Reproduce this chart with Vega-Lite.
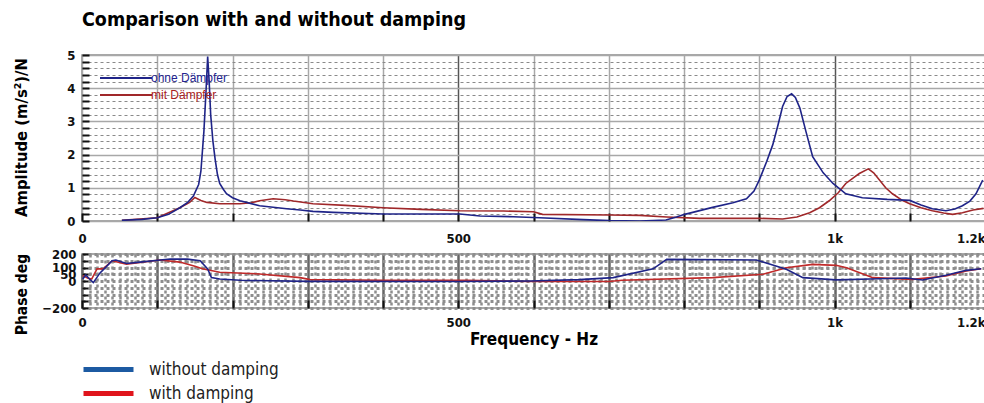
{
  "$schema": "https://vega.github.io/schema/vega-lite/v6.json",
  "padding": {"left": 12, "top": 9, "right": 0, "bottom": 0},
  "background": "white",
  "title": {
    "text": "Comparison with and without damping",
    "anchor": "start",
    "frame": "group",
    "font": "Liberation Sans Narrow, DejaVu Sans Condensed, sans-serif",
    "fontSize": 19.5,
    "fontWeight": "bold",
    "color": "#000",
    "offset": 18
  },
  "config": {
    "view": {"stroke": "#8c8c8c", "strokeWidth": 1.5},
    "axis": {
      "labelFont": "Liberation Sans Narrow, DejaVu Sans Condensed, sans-serif",
      "labelFontSize": 13,
      "labelFontWeight": "bold",
      "labelColor": "#111",
      "titleFont": "Liberation Sans Narrow, DejaVu Sans Condensed, sans-serif",
      "titleFontSize": 17,
      "titleFontWeight": "bold",
      "titleColor": "#000",
      "domain": false
    }
  },
  "datasets": {
    "amp": [
      {"s": "mit Dämpfer", "f": 53, "v": 0.02},
      {"s": "mit Dämpfer", "f": 100, "v": 0.1},
      {"s": "mit Dämpfer", "f": 130, "v": 0.4},
      {"s": "mit Dämpfer", "f": 143, "v": 0.56},
      {"s": "mit Dämpfer", "f": 150, "v": 0.71},
      {"s": "mit Dämpfer", "f": 158, "v": 0.62},
      {"s": "mit Dämpfer", "f": 166, "v": 0.56},
      {"s": "mit Dämpfer", "f": 183, "v": 0.52},
      {"s": "mit Dämpfer", "f": 210, "v": 0.52},
      {"s": "mit Dämpfer", "f": 225, "v": 0.55},
      {"s": "mit Dämpfer", "f": 236, "v": 0.61},
      {"s": "mit Dämpfer", "f": 254, "v": 0.67},
      {"s": "mit Dämpfer", "f": 270, "v": 0.64},
      {"s": "mit Dämpfer", "f": 281, "v": 0.6},
      {"s": "mit Dämpfer", "f": 307, "v": 0.52},
      {"s": "mit Dämpfer", "f": 350, "v": 0.47},
      {"s": "mit Dämpfer", "f": 400, "v": 0.4},
      {"s": "mit Dämpfer", "f": 450, "v": 0.35},
      {"s": "mit Dämpfer", "f": 502, "v": 0.31},
      {"s": "mit Dämpfer", "f": 560, "v": 0.3},
      {"s": "mit Dämpfer", "f": 600, "v": 0.28},
      {"s": "mit Dämpfer", "f": 612, "v": 0.2},
      {"s": "mit Dämpfer", "f": 701, "v": 0.18},
      {"s": "mit Dämpfer", "f": 741, "v": 0.17},
      {"s": "mit Dämpfer", "f": 777, "v": 0.12},
      {"s": "mit Dämpfer", "f": 821, "v": 0.08},
      {"s": "mit Dämpfer", "f": 900, "v": 0.08},
      {"s": "mit Dämpfer", "f": 931, "v": 0.06},
      {"s": "mit Dämpfer", "f": 950, "v": 0.12},
      {"s": "mit Dämpfer", "f": 967, "v": 0.25},
      {"s": "mit Dämpfer", "f": 980, "v": 0.4},
      {"s": "mit Dämpfer", "f": 993, "v": 0.61},
      {"s": "mit Dämpfer", "f": 1005, "v": 0.85},
      {"s": "mit Dämpfer", "f": 1015, "v": 1.13},
      {"s": "mit Dämpfer", "f": 1025, "v": 1.3},
      {"s": "mit Dämpfer", "f": 1033, "v": 1.43},
      {"s": "mit Dämpfer", "f": 1045, "v": 1.57},
      {"s": "mit Dämpfer", "f": 1052, "v": 1.45},
      {"s": "mit Dämpfer", "f": 1060, "v": 1.23},
      {"s": "mit Dämpfer", "f": 1068, "v": 1.0},
      {"s": "mit Dämpfer", "f": 1077, "v": 0.82},
      {"s": "mit Dämpfer", "f": 1090, "v": 0.62},
      {"s": "mit Dämpfer", "f": 1100, "v": 0.52},
      {"s": "mit Dämpfer", "f": 1115, "v": 0.4},
      {"s": "mit Dämpfer", "f": 1130, "v": 0.31},
      {"s": "mit Dämpfer", "f": 1145, "v": 0.24},
      {"s": "mit Dämpfer", "f": 1157, "v": 0.2},
      {"s": "mit Dämpfer", "f": 1170, "v": 0.25},
      {"s": "mit Dämpfer", "f": 1184, "v": 0.33},
      {"s": "mit Dämpfer", "f": 1198, "v": 0.38},
      {"s": "ohne Dämpfer", "f": 53, "v": 0.02},
      {"s": "ohne Dämpfer", "f": 80, "v": 0.05},
      {"s": "ohne Dämpfer", "f": 100, "v": 0.1},
      {"s": "ohne Dämpfer", "f": 115, "v": 0.2},
      {"s": "ohne Dämpfer", "f": 130, "v": 0.4},
      {"s": "ohne Dämpfer", "f": 140, "v": 0.55},
      {"s": "ohne Dämpfer", "f": 148, "v": 0.75},
      {"s": "ohne Dämpfer", "f": 155, "v": 1.1},
      {"s": "ohne Dämpfer", "f": 158, "v": 1.5},
      {"s": "ohne Dämpfer", "f": 162, "v": 2.7},
      {"s": "ohne Dämpfer", "f": 165, "v": 4.0},
      {"s": "ohne Dämpfer", "f": 167, "v": 4.95},
      {"s": "ohne Dämpfer", "f": 169, "v": 4.2},
      {"s": "ohne Dämpfer", "f": 171, "v": 3.2},
      {"s": "ohne Dämpfer", "f": 174, "v": 2.4},
      {"s": "ohne Dämpfer", "f": 177, "v": 1.85},
      {"s": "ohne Dämpfer", "f": 180, "v": 1.4},
      {"s": "ohne Dämpfer", "f": 183, "v": 1.13},
      {"s": "ohne Dämpfer", "f": 188, "v": 0.95},
      {"s": "ohne Dämpfer", "f": 192, "v": 0.82},
      {"s": "ohne Dämpfer", "f": 200, "v": 0.7},
      {"s": "ohne Dämpfer", "f": 210, "v": 0.61},
      {"s": "ohne Dämpfer", "f": 236, "v": 0.46},
      {"s": "ohne Dämpfer", "f": 272, "v": 0.37},
      {"s": "ohne Dämpfer", "f": 290, "v": 0.33},
      {"s": "ohne Dämpfer", "f": 307, "v": 0.29},
      {"s": "ohne Dämpfer", "f": 334, "v": 0.26},
      {"s": "ohne Dämpfer", "f": 400, "v": 0.21},
      {"s": "ohne Dämpfer", "f": 502, "v": 0.21},
      {"s": "ohne Dämpfer", "f": 529, "v": 0.15},
      {"s": "ohne Dämpfer", "f": 573, "v": 0.13},
      {"s": "ohne Dämpfer", "f": 608, "v": 0.1},
      {"s": "ohne Dämpfer", "f": 666, "v": 0.04},
      {"s": "ohne Dämpfer", "f": 701, "v": 0.01},
      {"s": "ohne Dämpfer", "f": 741, "v": 0.0},
      {"s": "ohne Dämpfer", "f": 776, "v": 0.03},
      {"s": "ohne Dämpfer", "f": 790, "v": 0.12},
      {"s": "ohne Dämpfer", "f": 801, "v": 0.2},
      {"s": "ohne Dämpfer", "f": 838, "v": 0.41},
      {"s": "ohne Dämpfer", "f": 865, "v": 0.55},
      {"s": "ohne Dämpfer", "f": 883, "v": 0.67},
      {"s": "ohne Dämpfer", "f": 893, "v": 0.9},
      {"s": "ohne Dämpfer", "f": 900, "v": 1.23},
      {"s": "ohne Dämpfer", "f": 910, "v": 1.8},
      {"s": "ohne Dämpfer", "f": 918, "v": 2.3},
      {"s": "ohne Dämpfer", "f": 925, "v": 2.9},
      {"s": "ohne Dämpfer", "f": 931, "v": 3.45},
      {"s": "ohne Dämpfer", "f": 937, "v": 3.75},
      {"s": "ohne Dämpfer", "f": 943, "v": 3.83},
      {"s": "ohne Dämpfer", "f": 948, "v": 3.72},
      {"s": "ohne Dämpfer", "f": 954, "v": 3.4},
      {"s": "ohne Dämpfer", "f": 962, "v": 2.7},
      {"s": "ohne Dämpfer", "f": 971, "v": 1.94},
      {"s": "ohne Dämpfer", "f": 985, "v": 1.45},
      {"s": "ohne Dämpfer", "f": 998, "v": 1.13},
      {"s": "ohne Dämpfer", "f": 1015, "v": 0.82},
      {"s": "ohne Dämpfer", "f": 1037, "v": 0.7},
      {"s": "ohne Dämpfer", "f": 1070, "v": 0.65},
      {"s": "ohne Dämpfer", "f": 1100, "v": 0.62},
      {"s": "ohne Dämpfer", "f": 1115, "v": 0.48},
      {"s": "ohne Dämpfer", "f": 1130, "v": 0.37},
      {"s": "ohne Dämpfer", "f": 1148, "v": 0.31},
      {"s": "ohne Dämpfer", "f": 1160, "v": 0.36},
      {"s": "ohne Dämpfer", "f": 1170, "v": 0.46},
      {"s": "ohne Dämpfer", "f": 1180, "v": 0.6},
      {"s": "ohne Dämpfer", "f": 1188, "v": 0.82},
      {"s": "ohne Dämpfer", "f": 1197, "v": 1.23}
    ],
    "phase": [
      {"s": "mit Dämpfer", "f": 1, "v": 40},
      {"s": "mit Dämpfer", "f": 8, "v": 20},
      {"s": "mit Dämpfer", "f": 13, "v": 15},
      {"s": "mit Dämpfer", "f": 20, "v": 90},
      {"s": "mit Dämpfer", "f": 28, "v": 90},
      {"s": "mit Dämpfer", "f": 40, "v": 150},
      {"s": "mit Dämpfer", "f": 59, "v": 125},
      {"s": "mit Dämpfer", "f": 104, "v": 155},
      {"s": "mit Dämpfer", "f": 130, "v": 140},
      {"s": "mit Dämpfer", "f": 150, "v": 110},
      {"s": "mit Dämpfer", "f": 160, "v": 90},
      {"s": "mit Dämpfer", "f": 183, "v": 65},
      {"s": "mit Dämpfer", "f": 236, "v": 52},
      {"s": "mit Dämpfer", "f": 290, "v": 25},
      {"s": "mit Dämpfer", "f": 303, "v": 10},
      {"s": "mit Dämpfer", "f": 400, "v": 5},
      {"s": "mit Dämpfer", "f": 511, "v": 5},
      {"s": "mit Dämpfer", "f": 595, "v": -4},
      {"s": "mit Dämpfer", "f": 700, "v": -4},
      {"s": "mit Dämpfer", "f": 718, "v": 5},
      {"s": "mit Dämpfer", "f": 838, "v": 25},
      {"s": "mit Dämpfer", "f": 905, "v": 50},
      {"s": "mit Dämpfer", "f": 936, "v": 98},
      {"s": "mit Dämpfer", "f": 971, "v": 123},
      {"s": "mit Dämpfer", "f": 1002, "v": 116},
      {"s": "mit Dämpfer", "f": 1016, "v": 98},
      {"s": "mit Dämpfer", "f": 1051, "v": 25},
      {"s": "mit Dämpfer", "f": 1104, "v": 12},
      {"s": "mit Dämpfer", "f": 1148, "v": 37},
      {"s": "mit Dämpfer", "f": 1175, "v": 74},
      {"s": "mit Dämpfer", "f": 1195, "v": 91},
      {"s": "ohne Dämpfer", "f": 1, "v": 15},
      {"s": "ohne Dämpfer", "f": 5, "v": 45},
      {"s": "ohne Dämpfer", "f": 10, "v": 15},
      {"s": "ohne Dämpfer", "f": 15, "v": -12},
      {"s": "ohne Dämpfer", "f": 24, "v": 60},
      {"s": "ohne Dämpfer", "f": 33, "v": 110},
      {"s": "ohne Dämpfer", "f": 40, "v": 150},
      {"s": "ohne Dämpfer", "f": 45, "v": 155},
      {"s": "ohne Dämpfer", "f": 59, "v": 130},
      {"s": "ohne Dämpfer", "f": 77, "v": 140},
      {"s": "ohne Dämpfer", "f": 104, "v": 155},
      {"s": "ohne Dämpfer", "f": 117, "v": 163},
      {"s": "ohne Dämpfer", "f": 140, "v": 162},
      {"s": "ohne Dämpfer", "f": 157, "v": 150},
      {"s": "ohne Dämpfer", "f": 167, "v": 89},
      {"s": "ohne Dämpfer", "f": 172, "v": 25},
      {"s": "ohne Dämpfer", "f": 183, "v": 15},
      {"s": "ohne Dämpfer", "f": 210, "v": 5},
      {"s": "ohne Dämpfer", "f": 300, "v": -3},
      {"s": "ohne Dämpfer", "f": 500, "v": -4},
      {"s": "ohne Dämpfer", "f": 595, "v": 0},
      {"s": "ohne Dämpfer", "f": 661, "v": 10},
      {"s": "ohne Dämpfer", "f": 706, "v": 25},
      {"s": "ohne Dämpfer", "f": 759, "v": 90},
      {"s": "ohne Dämpfer", "f": 777, "v": 160},
      {"s": "ohne Dämpfer", "f": 896, "v": 155},
      {"s": "ohne Dämpfer", "f": 905, "v": 140},
      {"s": "ohne Dämpfer", "f": 936, "v": 87},
      {"s": "ohne Dämpfer", "f": 958, "v": 25},
      {"s": "ohne Dämpfer", "f": 1002, "v": 8},
      {"s": "ohne Dämpfer", "f": 1060, "v": 17},
      {"s": "ohne Dämpfer", "f": 1095, "v": 22},
      {"s": "ohne Dämpfer", "f": 1117, "v": 8},
      {"s": "ohne Dämpfer", "f": 1148, "v": 42},
      {"s": "ohne Dämpfer", "f": 1175, "v": 79},
      {"s": "ohne Dämpfer", "f": 1195, "v": 91}
    ]
  },
  "spacing": 33,
  "bounds": "flush",
  "resolve": {"scale": {"color": "independent"}, "legend": {"color": "independent"}},
  "vconcat": [
    {
      "width": 903,
      "height": 166,
      "data": {"name": "amp"},
      "mark": {"type": "line", "strokeWidth": 1.6, "clip": true},
      "encoding": {
        "x": {
          "field": "f", "type": "quantitative",
          "scale": {"domain": [0, 1200], "nice": false, "zero": false},
          "axis": {
            "title": null,
            "values": [0, 100, 200, 300, 400, 500, 600, 700, 800, 900, 1000, 1100, 1200],
            "labelExpr": "datum.value == 0 ? '0' : datum.value == 500 ? '500' : datum.value == 1000 ? '1k' : datum.value == 1200 ? '1.2k' : ''",
            "labelAlign": {"condition": {"test": "datum.value == 1200", "value": "right"}, "value": "center"},
            "labelPadding": 19,
            "tickSize": -8,
            "tickColor": "#111",
            "tickWidth": 2,
            "grid": true,
            "gridColor": {"condition": {"test": "datum.value == 500 || datum.value == 1000", "value": "#555"}, "value": "#a8a8a8"},
            "gridWidth": 1.5
          }
        },
        "y": {
          "field": "v", "type": "quantitative",
          "scale": {"domain": [0, 5], "nice": false},
          "axis": {
            "title": "Amplitude (m/s²)/N",
            "titleFontSize": 16.5,
            "titleX": -61,
            "titleY": 82,
            "titleAlign": "center",
            "titleBaseline": "middle",
            "titleAngle": 270,
            "values": [0, 0.2, 0.4, 0.6, 0.8, 1, 1.2, 1.4, 1.6, 1.8, 2, 2.2, 2.4, 2.6, 2.8, 3, 3.2, 3.4, 3.6, 3.8, 4, 4.2, 4.4, 4.6, 4.8, 5],
            "labelExpr": "datum.value % 1 == 0 ? format(datum.value, 'd') : ''",
            "labelOverlap": false,
            "labelPadding": 14,
            "tickSize": -7,
            "tickColor": "#111",
            "tickWidth": 2,
            "grid": true,
            "gridColor": {"condition": {"test": "datum.value % 1 == 0", "value": "#a8a8a8"}, "value": "#8a8a8a"},
            "gridWidth": {"condition": {"test": "datum.value % 1 == 0", "value": 1.5}, "value": 1.2},
            "gridDash": {"condition": {"test": "datum.value % 1 == 0", "value": []}, "value": [3, 3]}
          }
        },
        "color": {
          "field": "s", "type": "nominal",
          "scale": {"domain": ["ohne Dämpfer", "mit Dämpfer"], "range": ["#1f2488", "#a0282a"]},
          "legend": {
            "orient": "none",
            "legendX": 38,
            "legendY": 17,
            "title": null,
            "symbolType": "M-5.2,0H5.2",
            "symbolSize": 100,
            "symbolStrokeWidth": 2,
            "labelFont": "Liberation Sans, Arial, sans-serif",
            "labelFontSize": 12,
            "labelOffset": 19,
            "rowPadding": 5,
            "encode": {"labels": {"update": {"fill": {"signal": "datum.value == 'ohne Dämpfer' ? '#23238f' : '#a82020'"}}}}
          }
        }
      }
    },
    {
      "width": 903,
      "height": 54,
      "data": {"name": "phase"},
      "encoding": {
        "x": {
          "field": "f", "type": "quantitative",
          "scale": {"domain": [0, 1200], "nice": false, "zero": false},
          "axis": {
            "title": "Frequency - Hz",
            "titlePadding": 2,
            "values": [0, 10, 20, 30, 40, 50, 60, 70, 80, 90, 100, 110, 120, 130, 140, 150, 160, 170, 180, 190, 200, 210, 220, 230, 240, 250, 260, 270, 280, 290, 300, 310, 320, 330, 340, 350, 360, 370, 380, 390, 400, 410, 420, 430, 440, 450, 460, 470, 480, 490, 500, 510, 520, 530, 540, 550, 560, 570, 580, 590, 600, 610, 620, 630, 640, 650, 660, 670, 680, 690, 700, 710, 720, 730, 740, 750, 760, 770, 780, 790, 800, 810, 820, 830, 840, 850, 860, 870, 880, 890, 900, 910, 920, 930, 940, 950, 960, 970, 980, 990, 1000, 1010, 1020, 1030, 1040, 1050, 1060, 1070, 1080, 1090, 1100, 1110, 1120, 1130, 1140, 1150, 1160, 1170, 1180, 1190, 1200],
            "labelExpr": "datum.value == 0 ? '0' : datum.value == 500 ? '500' : datum.value == 1000 ? '1k' : datum.value == 1200 ? '1.2k' : ''",
            "labelAlign": {"condition": {"test": "datum.value == 1200", "value": "right"}, "value": "center"},
            "labelOverlap": false,
            "labelPadding": 16,
            "tickSize": -8,
            "tickColor": "#111",
            "tickWidth": 2,
            "tickOpacity": {"condition": {"test": "datum.value % 100 == 0", "value": 1}, "value": 0},
            "grid": true,
            "gridColor": {"condition": {"test": "datum.value % 100 == 0", "value": "#666"}, "value": "#8e8e8e"},
            "gridWidth": 2.5,
            "gridDash": {"condition": {"test": "datum.value % 100 == 0", "value": []}, "value": [3, 3]}
          }
        },
        "y": {
          "field": "v", "type": "quantitative",
          "scale": {"domain": [-200, 200], "nice": false},
          "axis": {
            "title": "Phase deg",
            "titleFontSize": 15.5,
            "titleX": -61,
            "titleY": 40,
            "titleAlign": "center",
            "titleBaseline": "middle",
            "titleAngle": 270,
            "values": [-200, -150, -100, -50, 0, 50, 100, 150, 200],
            "labelExpr": "datum.value == 200 || datum.value == 100 || datum.value == 50 || datum.value == 0 || datum.value == -200 ? datum.label : ''",
            "labelOverlap": false,
            "labelPadding": 12,
            "tickSize": -6,
            "tickColor": "#111",
            "tickWidth": 2,
            "grid": true,
            "gridColor": "#8e8e8e",
            "gridWidth": 3,
            "gridDash": [3, 3]
          }
        }
      },
      "layer": [
        {
          "mark": {"type": "line", "strokeWidth": 1.6, "clip": true},
          "encoding": {
            "color": {
              "field": "s", "type": "nominal",
              "scale": {"domain": ["ohne Dämpfer", "mit Dämpfer"], "range": ["#1f2488", "#c02a2a"]},
              "legend": null
            }
          }
        },
        {
          "mark": {"type": "line", "strokeOpacity": 0, "clip": true},
          "encoding": {
            "stroke": {
              "field": "s", "type": "nominal",
              "scale": {"domain": ["ohne Dämpfer", "mit Dämpfer"], "range": ["#1c5aa2", "#e0141c"]},
              "legend": {
                "orient": "none",
                "legendX": 18,
                "legendY": 306,
                "title": null,
                "symbolType": "M-5,0H5",
                "symbolSize": 100,
                "symbolStrokeWidth": 5,
                "labelExpr": "datum.label == 'ohne Dämpfer' ? 'without damping' : 'with damping'",
                "labelFont": "Liberation Sans Narrow, DejaVu Sans Condensed, sans-serif",
                "labelFontSize": 17,
                "labelColor": "#222",
                "labelOffset": 32,
                "rowPadding": 3,
                "encode": {"symbols": {"update": {"strokeOpacity": {"value": 1}, "opacity": {"value": 1}}}}
              }
            }
          }
        }
      ]
    }
  ]
}
